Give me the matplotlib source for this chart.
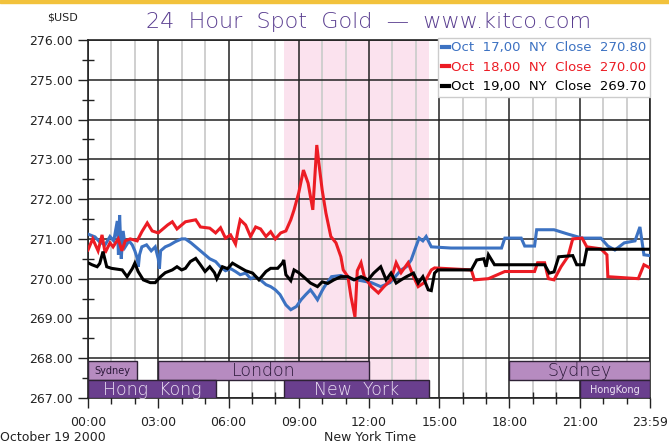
import numpy as np
import matplotlib
matplotlib.use("Agg")
import matplotlib.pyplot as plt
from matplotlib.patches import Rectangle

# hours (New York time) and price for each day
blue_h = [0.0, 0.3, 0.5, 0.73, 0.94, 1.1, 1.25, 1.3, 1.35, 1.42, 1.5, 1.59, 1.75, 1.89, 2.0, 2.1, 2.15, 2.2,
          2.3, 2.5, 2.7, 2.87, 3.0, 3.05, 3.1, 3.3, 3.5, 3.73, 4.0, 4.16, 4.4, 4.6, 4.8, 5.0, 5.2, 5.45,
          5.65, 5.87, 6.1, 6.3, 6.5, 6.73, 6.95, 7.16, 7.4, 7.6, 7.8, 8.0, 8.2, 8.45, 8.66, 8.9, 9.1, 9.3,
          9.5, 9.65, 9.8, 10.0, 10.1, 10.4, 10.8, 11.2, 11.66, 12.1, 12.5, 12.9, 13.37, 13.6, 13.8, 14.0,
          14.14, 14.3, 14.44, 14.66, 15.5, 17.66, 17.8, 18.5, 18.65, 19.07, 19.16, 19.9, 20.5, 21.1,
          21.9, 22.2, 22.5, 22.9, 23.36, 23.57, 23.74, 24.0]
blue_p = [271.12, 271.05, 270.92, 270.85, 271.06, 270.95, 271.45, 270.6, 271.6, 270.5, 271.2, 270.8,
          270.95, 270.85, 270.7, 270.52, 270.3, 270.6, 270.8, 270.85, 270.7, 270.8, 270.5, 270.25, 270.7,
          270.8, 270.85, 270.93, 271.0, 271.0, 270.9, 270.8, 270.7, 270.6, 270.5, 270.43, 270.3, 270.2,
          270.25, 270.18, 270.1, 270.14, 270.0, 270.05, 269.95, 269.85, 269.8, 269.72, 269.6, 269.34,
          269.22, 269.3, 269.47, 269.6, 269.72, 269.6, 269.47, 269.7, 269.8, 270.05, 270.08, 270.0,
          269.95, 269.9, 269.8, 269.9, 270.22, 270.3, 270.47, 270.8, 271.02, 270.95, 271.06, 270.8,
          270.77, 270.77, 271.02, 271.02, 270.82, 270.82, 271.23, 271.23, 271.12, 271.02, 271.02, 270.82,
          270.72, 270.9, 270.95, 271.3, 270.6, 270.58]

red_h = [0.0, 0.2, 0.43, 0.6, 0.73, 0.94, 1.07, 1.29, 1.45, 1.59, 1.8, 2.1, 2.3, 2.53, 2.74, 3.0, 3.4, 3.6,
         3.8, 4.16, 4.6, 4.8, 5.2, 5.45, 5.66, 5.87, 6.09, 6.3, 6.4, 6.5, 6.73, 6.94, 7.16, 7.37, 7.6, 7.8,
         8.0, 8.23, 8.45, 8.66, 8.8, 9.0, 9.2, 9.4, 9.6, 9.66, 9.77, 9.86, 10.0, 10.16, 10.37, 10.59, 10.8,
         10.9, 11.1, 11.23, 11.4, 11.5, 11.66, 11.8, 12.1, 12.4, 12.64, 12.94, 13.16, 13.37, 13.67, 13.9,
         14.1, 14.36, 14.66, 14.8, 16.37, 16.5, 17.1, 17.8, 19.07, 19.2, 19.5, 19.66, 19.9, 20.2, 20.5,
         20.7, 21.1, 21.3, 21.9, 22.16, 22.2, 23.5, 23.74, 24.0]
red_p = [270.72, 271.0, 270.7, 271.1, 270.65, 270.9, 270.8, 271.0, 270.7, 270.95, 271.0, 270.95, 271.18,
         271.4, 271.2, 271.15, 271.35, 271.43, 271.25, 271.43, 271.48, 271.3, 271.27, 271.15, 271.28,
         271.02, 271.1, 270.87, 271.2, 271.48, 271.35, 271.06, 271.3, 271.25, 271.06, 271.18, 271.0,
         271.15, 271.2, 271.48, 271.73, 272.16, 272.73, 272.4, 271.73, 272.3, 273.36, 272.9, 272.23,
         271.65, 271.06, 270.9, 270.55, 270.22, 270.05, 269.55, 269.04, 270.2, 270.4, 270.05, 269.8,
         269.64, 269.8, 269.97, 270.4, 270.15, 270.4, 270.05, 269.8, 269.9, 270.22, 270.27, 270.22,
         269.97, 270.0, 270.18, 270.18, 270.4, 270.4, 270.0, 269.97, 270.3, 270.56, 271.0, 271.02,
         270.8, 270.75, 270.6, 270.05, 270.0, 270.35, 270.27]

black_h = [0.0, 0.17, 0.39, 0.5, 0.64, 0.8, 1.0, 1.46, 1.67, 1.89, 2.0, 2.14, 2.36, 2.66, 2.87, 3.1, 3.3,
           3.6, 3.8, 4.0, 4.16, 4.37, 4.6, 4.8, 5.0, 5.2, 5.4, 5.5, 5.74, 5.96, 6.17, 6.43, 6.73, 7.03,
           7.3, 7.6, 7.8, 8.1, 8.3, 8.36, 8.45, 8.66, 8.8, 9.0, 9.2, 9.5, 9.8, 10.0, 10.24, 10.5, 10.8,
           11.1, 11.36, 11.66, 11.96, 12.2, 12.5, 12.73, 12.94, 13.16, 13.37, 13.6, 13.9, 14.1, 14.3,
           14.53, 14.66, 14.8, 14.94, 16.37, 16.6, 16.9, 17.0, 17.1, 17.36, 19.5, 19.7, 19.9, 20.1, 20.7,
           20.87, 21.17, 21.3, 24.0]
black_p = [270.4, 270.35, 270.3, 270.38, 270.68, 270.3, 270.26, 270.22, 270.05, 270.25, 270.39, 270.18,
           269.97, 269.9, 269.9, 270.05, 270.15, 270.22, 270.3, 270.22, 270.26, 270.43, 270.51, 270.35,
           270.18, 270.3, 270.15, 270.0, 270.3, 270.25, 270.39, 270.3, 270.2, 270.14, 269.97, 270.18,
           270.26, 270.26, 270.39, 270.47, 270.1, 269.95, 270.22, 270.15, 270.05, 269.89, 269.8, 269.92,
           269.88, 269.97, 270.05, 270.05, 269.97, 270.05, 269.97, 270.14, 270.3, 269.97, 270.14, 269.89,
           269.97, 270.05, 270.14, 269.89, 270.05, 269.72, 269.7, 270.14, 270.22, 270.22, 270.47, 270.5,
           270.3, 270.6, 270.35, 270.35, 270.14, 270.17, 270.55, 270.58, 270.35, 270.35, 270.74, 270.74]

labels = ["Oct  17,00  NY  Close  270.80", "Oct  18,00  NY  Close  270.00", "Oct  19,00  NY  Close  269.70"]
colors = ["#3c72c2", "#ec1c24", "#000000"]

# trading sessions: (name, start hour, end hour, row) row 1 = upper, 0 = lower
sessions = [("Sydney", 0.0, 2.1, 1), ("London", 3.0, 12.0, 1), ("Sydney", 18.0, 24.0, 1),
            ("Hong  Kong", 0.0, 5.45, 0), ("New  York", 8.36, 14.58, 0), ("HongKong", 21.0, 24.0, 0)]
ny_open = 8.36
ny_close = 14.58

tick_hours = [0, 3, 6, 9, 12, 15, 18, 21, 24]
tick_labels = ["00:00", "03:00", "06:00", "09:00", "12:00", "15:00", "18:00", "21:00", "23:59"]

fig = plt.figure(figsize=(6.69, 4.44), dpi=100)
ax = fig.add_axes([88 / 669, 46 / 444, 562 / 669, 358 / 444])

# yellow strip along the top
fig.patches.append(Rectangle((0, 1 - 3 / 444), 1, 3 / 444, transform=fig.transFigure,
                             color="#f2c23c", zorder=0))

ax.axvspan(ny_open, ny_close, color="#fbe2ee", zorder=0, lw=0)

ax.set_xlim(0, 24)
ax.set_ylim(267, 276)
ax.set_xticks(tick_hours)
ax.set_xticklabels(tick_labels)
ax.set_xticks(np.arange(0, 25, 1), minor=True)
ax.set_yticks(np.arange(267, 277, 1))
ax.set_yticklabels(["%.2f" % v for v in np.arange(267, 277, 1)])
ax.set_yticks(np.arange(267.5, 276, 1), minor=True)

ax.grid(which="minor", axis="x", color="#cfcfcf", lw=1.4, zorder=1)
ax.grid(which="major", axis="both", color="#222222", lw=1.1, zorder=1)
ax.tick_params(which="major", direction="out", length=7, width=1, labelsize=9,
               colors="#222222", pad=4)
ax.tick_params(which="minor", direction="inout", length=8, width=1, color="#222222")
ax.tick_params(axis="x", which="major", pad=6)
for s in ax.spines.values():
    s.set_color("#222222")
    s.set_linewidth(1.2)
ax.set_axisbelow(True)

for h, p, c, lab in zip([blue_h, red_h, black_h], [blue_p, red_p, black_p], colors, labels):
    ax.plot(h, p, color=c, lw=2.2, label=lab, zorder=3, solid_joinstyle="miter")

# session bars
row_y = {1: (267.46, 0.46), 0: (267.0, 0.46)}
row_fc = {1: "#b68bc0", 0: "#6a3f8e"}
row_tc = {1: "#2a1838", 0: "#ece2f4"}
for name, s0, s1, row in sessions:
    y0, hgt = row_y[row]
    ax.add_patch(Rectangle((s0, y0), s1 - s0, hgt, facecolor=row_fc[row],
                           edgecolor="#2e2236", lw=1, zorder=4))
    small = (s1 - s0) < 3.5
    ax.text((s0 + s1) / 2, y0 + hgt / 2 - 0.02, name, ha="center", va="center",
            fontsize=7 if small else 12.5, color=row_tc[row], zorder=5,
            fontweight="normal" if small else "light")

leg = ax.legend(loc="upper right", bbox_to_anchor=(1.0, 1.006), fontsize=9.5, handlelength=0.6,
                handletextpad=0.15, borderpad=0.25, labelspacing=0.5, fancybox=False,
                framealpha=1, borderaxespad=0)
leg.get_frame().set_edgecolor("#cccccc")
leg.get_frame().set_linewidth(1)
leg.set_zorder(6)
for txt, c in zip(leg.get_texts(), colors):
    txt.set_color(c)
for line in leg.get_lines():
    line.set_linewidth(3)

fig.text(369 / 669, 1 - 22 / 444, "24  Hour  Spot  Gold  \u2014  www.kitco.com", ha="center",
         va="center", fontsize=16, color="#5a3e90", fontweight="light")
fig.text(62 / 669, 1 - 18 / 444, "$USD", ha="center", va="center", fontsize=8, color="#222222")
fig.text(0.0, 1 - 437 / 444, "October 19 2000", ha="left", va="center", fontsize=9, color="#222222")
fig.text(370 / 669, 1 - 437 / 444, "New York Time", ha="center", va="center", fontsize=9,
         color="#222222")

fig.savefig("out.png", dpi=100)
